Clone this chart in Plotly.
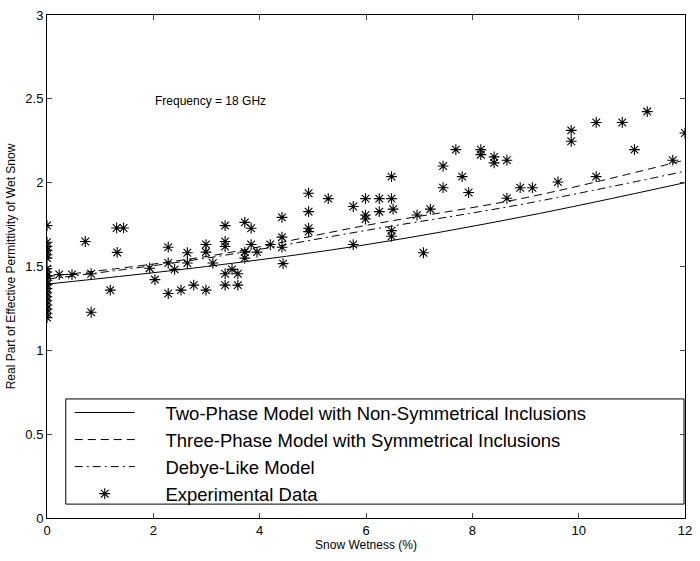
import plotly.graph_objects as go

# Model curves
model_x = [0, 3, 6, 9, 12]
two_phase = [1.395, 1.50, 1.63, 1.80, 2.00]
three_phase = [1.44, 1.56, 1.745, 1.91, 2.135]
debye_like = [1.425, 1.55, 1.715, 1.875, 2.068]

exp_x = [0]*19 + [
    0.23, 0.47, 0.83, 0.83, 0.72, 1.19, 1.32, 1.31, 1.44, 1.93,
    2.03, 2.28, 2.28, 2.28, 2.40, 2.52, 2.64, 2.64, 2.76, 2.99,
    2.99, 2.99, 3.12, 3.35, 3.35, 3.35, 3.35, 3.35, 3.48, 3.59,
    3.59, 3.72, 3.84, 3.72, 3.72, 3.84, 3.95, 4.20, 4.42, 4.42,
    4.42, 4.44, 4.92, 4.92, 4.92, 4.92, 5.29, 5.76, 5.76, 5.99,
    5.99, 5.99, 6.25, 6.25, 6.48, 6.48, 6.51, 6.48, 6.48, 6.96,
    7.08, 7.21, 7.45, 7.45, 7.69, 7.81, 7.93, 8.16, 8.16, 8.41,
    8.41, 8.65, 8.65, 8.90, 9.13, 9.61, 9.86, 9.86, 10.33, 10.33,
    10.82, 11.05, 11.29, 11.77, 12.0]
exp_y = [1.744, 1.645, 1.619, 1.596, 1.570, 1.550, 1.487, 1.467, 1.444, 1.418,
         1.392, 1.369, 1.343, 1.320, 1.296, 1.270, 1.246, 1.221, 1.195] + [
    1.452, 1.452, 1.457, 1.227, 1.649, 1.359, 1.584, 1.730, 1.730, 1.49,
    1.422, 1.615, 1.521, 1.339, 1.483, 1.359, 1.582, 1.521, 1.389, 1.631,
    1.586, 1.359, 1.521, 1.744, 1.649, 1.619, 1.457, 1.389, 1.483, 1.457,
    1.389, 1.763, 1.728, 1.586, 1.550, 1.631, 1.586, 1.631, 1.793, 1.675,
    1.615, 1.517, 1.937, 1.827, 1.728, 1.708, 1.905, 1.858, 1.631, 1.905,
    1.807, 1.783, 1.905, 1.827, 2.036, 1.905, 1.842, 1.714, 1.680, 1.807,
    1.582, 1.842, 2.099, 1.970, 2.197, 2.036, 1.941, 2.197, 2.167, 2.154,
    2.118, 2.134, 1.907, 1.970, 1.970, 2.004, 2.312, 2.247, 2.359, 2.036,
    2.359, 2.197, 2.424, 2.134, 2.296]

x_ticks = [0, 2, 4, 6, 8, 10, 12]
y_ticks = [0, 0.5, 1, 1.5, 2, 2.5, 3]
y_tick_text = ["0", "0.5", "1", "1.5", "2", "2.5", "3"]

font = "Liberation Sans, Arial, Helvetica, sans-serif"
pad = "\u00a0" * 5

fig = go.Figure()
fig.add_trace(go.Scatter(x=model_x, y=two_phase, mode="lines", line_shape="spline",
                         line=dict(color="black", width=1),
                         name=pad + "Two-Phase Model with Non-Symmetrical Inclusions"))
fig.add_trace(go.Scatter(x=model_x, y=three_phase, mode="lines", line_shape="spline",
                         line=dict(color="black", width=1, dash="8px,5px"),
                         name=pad + "Three-Phase Model with Symmetrical Inclusions"))
fig.add_trace(go.Scatter(x=model_x, y=debye_like, mode="lines", line_shape="spline",
                         line=dict(color="black", width=1, dash="8px,4px,2px,4px"),
                         name=pad + "Debye-Like Model"))
fig.add_trace(go.Scatter(x=exp_x, y=exp_y, mode="markers",
                         marker=dict(symbol="asterisk-open", size=9, color="black",
                                     line=dict(color="black", width=1.1)),
                         name=pad + "Experimental Data"))

fig.add_annotation(x=2.0, y=2.49, xref="x", yref="y", text="Frequency = 18 GHz",
                   showarrow=False, xanchor="left", yanchor="middle",
                   font=dict(family=font, size=12, color="black"))

# legend box
fig.add_shape(type="rect", xref="paper", yref="paper",
              x0=(66-47)/645, x1=(691-47)/645, y0=(518-504)/507, y1=(518-398)/507,
              line=dict(color="black", width=1), fillcolor="white", layer="below")

fig.update_layout(
    width=700, height=561,
    margin=dict(l=47, r=8, t=11, b=43),
    plot_bgcolor="white", paper_bgcolor="white",
    font=dict(family=font, size=12, color="black"),
    showlegend=True,
    legend=dict(x=(70-47)/645, y=(518-393)/507, xanchor="left", yanchor="top",
                bgcolor="rgba(0,0,0,0)", borderwidth=0, itemwidth=60,
                font=dict(family=font, size=18.5, color="black"), tracegroupgap=0),
    xaxis=dict(range=[0, 12], tickvals=x_ticks, ticks="inside", ticklen=5,
               showgrid=False, zeroline=False, showline=True, linecolor="black",
               linewidth=1, mirror="ticks", tickfont=dict(size=13),
               title=dict(text="Snow Wetness (%)", font=dict(size=12), standoff=4)),
    yaxis=dict(range=[0, 3], tickvals=y_ticks, ticktext=y_tick_text, ticks="inside",
               ticklen=5, showgrid=False, zeroline=False, showline=True,
               linecolor="black", linewidth=1, mirror="ticks", tickfont=dict(size=13),
               title=dict(text="Real Part of Effective Permittivity of Wet Snow",
                          font=dict(size=12), standoff=7)),
)

fig.write_html("out.html")
